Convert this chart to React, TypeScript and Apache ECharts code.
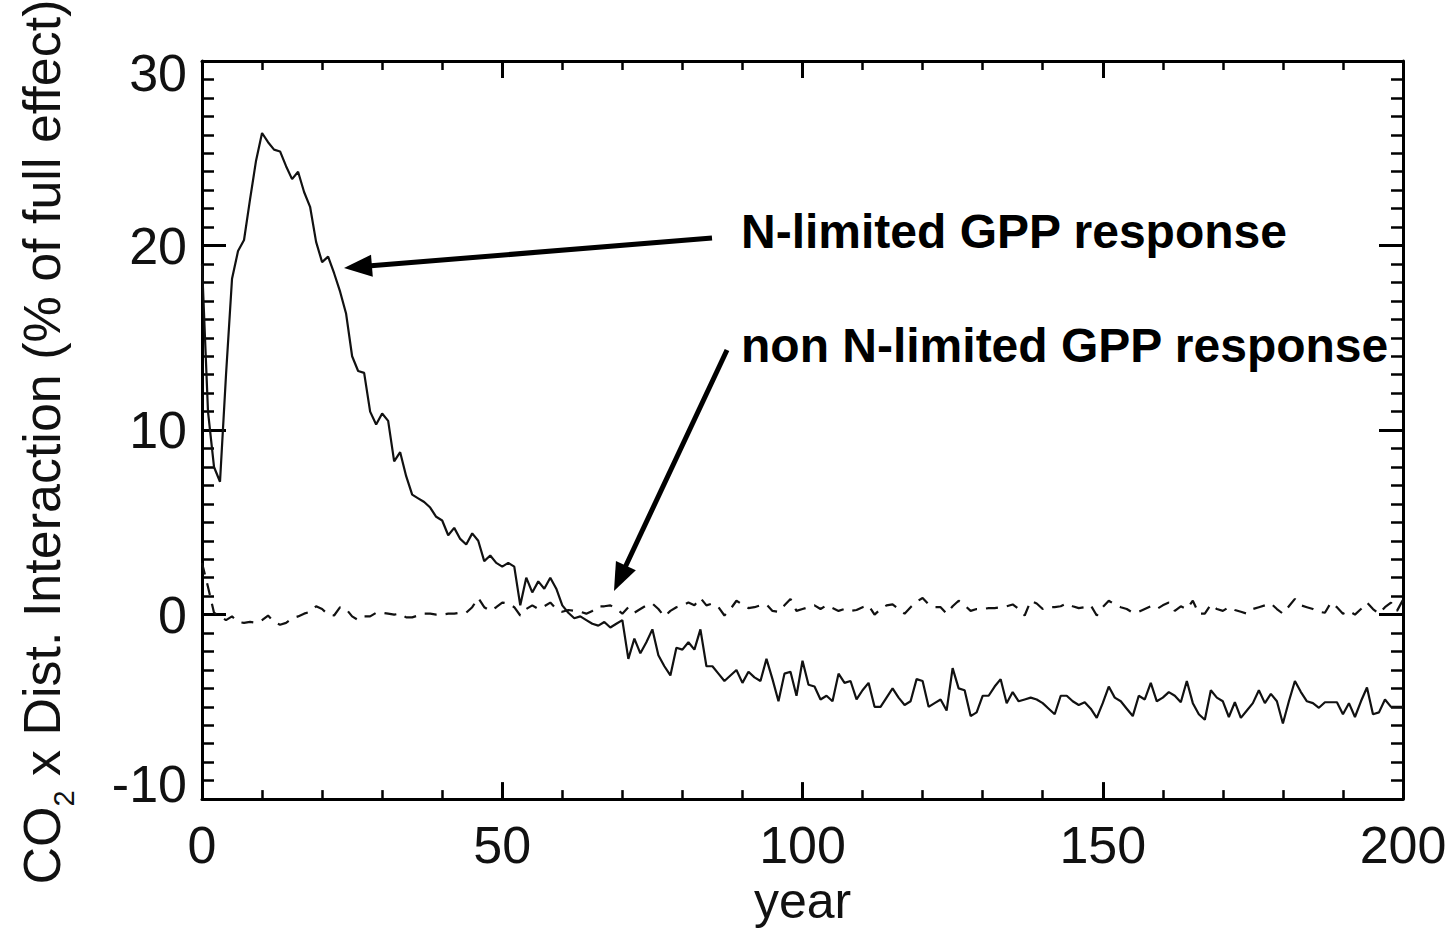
import React, { useEffect, useRef } from "react";
import * as echarts from "echarts";

// N-limited GPP response, yearly values, year 0..200
const nLimited: number[] = [
  19, 11, 8, 7.2, 13, 18.2, 19.7, 20.3, 22.5, 24.6,
  26.1, 25.6, 25.2, 25.1, 24.3, 23.6, 24.0, 22.9, 22.1, 20.2,
  19.1, 19.4, 18.5, 17.5, 16.3, 14.0, 13.2, 13.1, 11.0, 10.3,
  10.9, 10.5, 8.3, 8.8, 7.5, 6.5, 6.3, 6.1, 5.8, 5.3,
  5.1, 4.3, 4.7, 4.1, 3.8, 4.4, 4.0, 2.9, 3.2, 2.8,
  2.6, 2.8, 2.6, 0.5, 2.0, 1.2, 1.8, 1.4, 2.0, 1.4,
  0.5, 0.1, -0.2, -0.1, -0.3, -0.5, -0.6, -0.4, -0.7, -0.5,
  -0.3, -2.4, -1.3, -2.1, -1.5, -0.8, -2.2, -2.8, -3.3, -1.8,
  -1.9, -1.5, -1.9, -0.8, -2.8, -2.8, -3.2, -3.6, -3.3, -3.0,
  -3.7, -3.1, -3.4, -3.6, -2.4, -3.5, -4.7, -3.2, -3.1, -4.4,
  -2.5, -3.8, -3.9, -4.6, -4.4, -4.7, -3.2, -3.7, -3.6, -4.6,
  -4.1, -3.7, -5.0, -5.0, -4.5, -4.0, -4.5, -4.9, -4.7, -3.5,
  -3.6, -5.0, -4.8, -4.6, -5.2, -2.9, -4.0, -4.1, -5.5, -5.3,
  -4.4, -4.4, -3.9, -3.5, -4.8, -4.2, -4.7, -4.6, -4.5, -4.6,
  -4.8, -5.1, -5.4, -4.4, -4.4, -4.7, -4.9, -4.75, -5.1, -5.6,
  -4.8, -3.9, -4.5, -4.7, -5.1, -5.5, -4.4, -4.6, -3.7, -4.7,
  -4.5, -4.2, -4.4, -4.75, -3.6, -4.8, -5.4, -5.7, -4.1, -4.5,
  -4.7, -5.55, -4.75, -5.6, -5.2, -4.8, -4.1, -4.8, -4.3, -4.7,
  -5.9, -4.7, -3.6, -4.2, -4.7, -4.8, -5.05, -4.75, -4.75, -4.75,
  -5.4, -4.8, -5.55, -4.7, -3.95, -5.4, -5.3, -4.6, -5.0, -5.0, -5.0,
];

// non N-limited GPP response, yearly values, year 0..200
const nonNLimited: number[] = [
  2.8, 1.5, 0.1, -0.1, -0.3, -0.1, -0.4, -0.45, -0.4, -0.45,
  -0.3, -0.05, -0.4, -0.55, -0.45, -0.2, -0.1, 0.05, 0.15, 0.45,
  0.3, 0.0, -0.05, 0.4, 0.3, -0.1, -0.3, -0.1, -0.1, 0.1,
  0.1, 0.05, 0.0, 0.05, -0.15, -0.15, -0.05, 0.05, 0.05, 0.0,
  0.0, 0.05, 0.05, 0.1, 0.1, 0.4, 0.9, 0.4, 0.2, 0.4,
  0.65, 0.6, 0.4, -0.05, 0.3, 0.5, 0.3, 0.45, 0.65, 0.3,
  0.15, 0.25, 0.2, 0.15, 0.05, 0.2, 0.45, 0.45, 0.5, 0.3,
  0.05, 0.4, 0.1, 0.3, 0.5, 0.6, 0.3, -0.1, 0.2, 0.4,
  0.5, 0.65, 0.5, 0.9, 0.5, 0.6, 0.4, -0.05, 0.3, 0.75,
  0.55, 0.35, 0.4, 0.5, 0.55, 0.2, 0.15, 0.5, 0.85, 0.2,
  0.3, 0.4, 0.5, 0.3, 0.5, 0.35, 0.2, 0.3, 0.2, 0.25,
  0.4, 0.5, 0.0, 0.3, 0.5, 0.55, 0.3, 0.05, 0.4, 0.7,
  0.9, 0.55, 0.4, 0.4, 0.05, 0.45, 0.75, 0.5, 0.2, 0.3,
  0.3, 0.35, 0.35, 0.4, 0.45, 0.55, 0.3, -0.05, 0.75, 0.6,
  0.3, 0.4, 0.4, 0.45, 0.6, 0.45, 0.35, 0.4, 0.5, -0.05,
  0.4, 0.75, 0.55, 0.4, 0.3, 0.1, 0.15, 0.3, 0.45, 0.3,
  0.5, 0.65, 0.2, 0.45, 0.3, 0.75, 0.05, 0.05, 0.55, 0.3,
  0.2, 0.4, 0.25, 0.15, 0.05, 0.3, 0.4, 0.5, 0.6, 0.3,
  0.05, 0.45, 0.85, 0.5, 0.4, 0.3, 0.15, 0.1, 0.65, 0.4,
  0.05, 0.2, 0.0, 0.3, 0.65, 0.3, 0.05, 0.4, 0.65, 0.2, 0.8,
];

const startYear = 0;
const xTicks = { min: 0, max: 200, interval: 50 };
const yTicks = { min: -10, max: 30, interval: 10 };

const FONT = "'Liberation Sans', Arial, Helvetica, sans-serif";

function arrowGraphics(x1: number, y1: number, x2: number, y2: number) {
  const ang = Math.atan2(y2 - y1, x2 - x1);
  const headLen = 28;
  const headHalf = 11;
  const bx = x2 - headLen * Math.cos(ang);
  const by = y2 - headLen * Math.sin(ang);
  const px = -Math.sin(ang);
  const py = Math.cos(ang);
  return [
    {
      type: "line",
      shape: { x1, y1, x2: bx + 4 * Math.cos(ang), y2: by + 4 * Math.sin(ang) },
      style: { stroke: "#000", lineWidth: 5 },
    },
    {
      type: "polygon",
      shape: {
        points: [
          [x2, y2],
          [bx + px * headHalf, by + py * headHalf],
          [bx - px * headHalf, by - py * headHalf],
        ],
      },
      style: { fill: "#000" },
    },
  ];
}

export default function App() {
  const ref = useRef<HTMLDivElement>(null);

  useEffect(() => {
    document.body.style.margin = "0";
    if (!ref.current) return;
    const chart = echarts.init(ref.current, undefined, { renderer: "svg" });

    const axisLineStyle = { color: "#000", width: 3 };
    const baseX = {
      type: "value" as const,
      min: xTicks.min,
      max: xTicks.max,
      interval: xTicks.interval,
      splitLine: { show: false },
      axisLine: { show: true, onZero: false, lineStyle: axisLineStyle },
      axisTick: { show: true, inside: true, length: 17, lineStyle: { color: "#000", width: 3 } },
      minorTick: { show: true, splitNumber: 5, length: 9, lineStyle: { color: "#000", width: 2.5 } },
      minorSplitLine: { show: false },
    };
    const baseY = {
      type: "value" as const,
      min: yTicks.min,
      max: yTicks.max,
      interval: yTicks.interval,
      splitLine: { show: false },
      axisLine: { show: true, onZero: false, lineStyle: axisLineStyle },
      axisTick: { show: true, inside: true, length: 24, lineStyle: { color: "#000", width: 3 } },
      minorTick: { show: true, splitNumber: 10, length: 12, lineStyle: { color: "#000", width: 2.5 } },
      minorSplitLine: { show: false },
    };

    const labelStyle = { fontFamily: FONT, fontSize: 52, color: "#111" };

    const option: any = {
      animation: false,
      backgroundColor: "#fff",
      grid: { left: 202, right: 52, top: 54, bottom: 125, containLabel: false },
      xAxis: [
        {
          ...baseX,
          position: "bottom",
          name: "year",
          nameLocation: "middle",
          nameGap: 72,
          nameTextStyle: { fontFamily: FONT, fontSize: 50, color: "#111" },
          axisLabel: { show: true, margin: 20, ...labelStyle },
        },
        { ...baseX, position: "top", axisLabel: { show: false } },
      ],
      yAxis: [
        {
          ...baseY,
          position: "left",
          name: "CO{sub|2} x Dist. Interaction (% of full effect)",
          nameLocation: "middle",
          nameGap: 134,
          nameTextStyle: {
            fontFamily: FONT,
            fontSize: 52,
            color: "#111",
            padding: [0, 24, 0, 0],
            rich: {
              sub: { fontFamily: FONT, fontSize: 29, color: "#111", verticalAlign: "bottom", padding: [0, 0, -10, 0] },
            },
          },
          axisLabel: {
            show: true,
            margin: 15,
            ...labelStyle,
            formatter: (v: number) =>
              v === yTicks.max ? `{top|${v}}` : v === yTicks.min ? `{bot|${v}}` : `{n|${v}}`,
            rich: {
              n: { ...labelStyle },
              top: { ...labelStyle, padding: [24, 0, 0, 0] },
              bot: { ...labelStyle, padding: [0, 0, 30, 0] },
            },
          },
        },
        { ...baseY, position: "right", axisLabel: { show: false } },
      ],
      series: [
        {
          name: "N-limited GPP response",
          type: "line",
          xAxisIndex: 0,
          yAxisIndex: 0,
          data: nLimited.map((v, i) => [startYear + i, v]),
          showSymbol: false,
          symbol: "none",
          lineStyle: { color: "#111", width: 2.2 },
          z: 3,
        },
        {
          name: "non N-limited GPP response",
          type: "line",
          xAxisIndex: 0,
          yAxisIndex: 0,
          data: nonNLimited.map((v, i) => [startYear + i, v]),
          showSymbol: false,
          symbol: "none",
          lineStyle: { color: "#111", width: 2.2, type: [12, 9] },
          z: 3,
        },
      ],
      graphic: [
        {
          type: "text",
          left: 741,
          top: 207,
          style: {
            text: "N-limited GPP response",
            font: `bold 48px ${FONT}`,
            fill: "#000",
          },
        },
        {
          type: "text",
          left: 741,
          top: 321,
          style: {
            text: "non N-limited GPP response",
            font: `bold 48px ${FONT}`,
            fill: "#000",
          },
        },
        ...arrowGraphics(712, 238, 344, 268),
        ...arrowGraphics(727, 350, 614, 591),
      ],
    };

    chart.setOption(option);
    return () => chart.dispose();
  }, []);

  return <div ref={ref} style={{ width: 1455, height: 931 }} />;
}
